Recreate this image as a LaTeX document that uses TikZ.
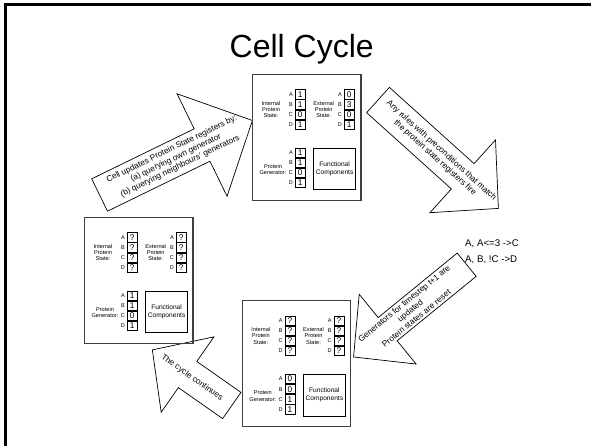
\documentclass[tikz,border=0pt]{standalone}
\usepackage{fontspec}
\setmainfont{Liberation Sans}
\tikzset{
  frameline/.style={line width=3pt},
  cellframe/.style={draw=black!75, line width=1.3pt, inner sep=0pt},
  regcell/.style={draw, line width=0.7pt, minimum width=10pt, minimum height=9.2pt, inner sep=0pt, font=\fontsize{8.3}{8.3}\selectfont},
  reglet/.style={inner sep=0pt, font=\fontsize{5.5}{5.5}\selectfont},
  lbl/.style={inner sep=0pt, align=center, font=\fontsize{5.6}{6.3}\selectfont},
  funcbox/.style={draw, line width=0.8pt, minimum width=42pt, minimum height=41.5pt, inner sep=0pt, align=center, font=\fontsize{6.6}{8.2}\selectfont},
  blockarrow/.style={draw, line width=0.7pt, fill=white, line join=miter},
  arrowtext/.style={align=center, inner sep=0pt, font=\fontsize{8.3}{9.6}\selectfont},
  ruletext/.style={anchor=base west, inner sep=0pt, font=\fontsize{9.7}{9.7}\selectfont},
}
\newcommand\regcol[7]{%
  \foreach \v [count=\i] in {#4,#5,#6,#7}{%
    \node[regcell] (#1\i) at ({#2+5},{-(#3)-10.1*\i+5.05}) {\v};
  }%
  \foreach \l [count=\i] in {A,B,C,D}{%
    \node[reglet] (#1l\i) at ({#2-4.3},{-(#3)-10.1*\i+5.05}) {\l};
  }%
}
\newcommand\cellbox[1]{%
  \node[cellframe, minimum width=108.5pt, minimum height=125.8pt, anchor=north west] (#1) at (0,0) {};
  \node[lbl] (#1-int) at (19.3,-35.8) {Internal\\Protein\\State:};
  \node[lbl] (#1-ext) at (72,-35.8) {External\\Protein\\State:};
  \node[lbl] (#1-gen) at (21.3,-96.1) {Protein\\Generator:};
  \node[funcbox, anchor=north west] (#1-fc) at (61.5,-74) {Functional\\Components};
}
% #1 name, #2 x, #3 y (image), #4 angle, #5 length, #6 shaft width, #7 head width, #8 head length
\newcommand\blockarr[8]{%
  \begin{scope}[shift={(#2,-#3)}, rotate=#4]
    \draw[blockarrow] (0,{-#6/2}) -- ({#5-#8},{-#6/2}) -- ({#5-#8},{-#7/2}) -- (#5,0)
      -- ({#5-#8},{#7/2}) -- ({#5-#8},{#6/2}) -- (0,{#6/2}) -- cycle;
    \coordinate (#1c) at ({#5/2},0);
  \end{scope}%
}
\begin{document}
\begin{tikzpicture}[x=1pt, y=1pt]
\useasboundingbox (0,0) rectangle (591,-445);
\draw[frameline] (5,-446) -- (5,-4.5) -- (592,-4.5);

\node[inner sep=0pt, anchor=base, font=\fontsize{32}{32}\selectfont] (title) at (301.7,-57.3) {Cell Cycle};

% arrows
\blockarr{a1}{99.6}{195}{26}{170}{36}{114}{56}
\node[arrowtext, rotate=26] (a1t) at (a1c) {Cell updates Protein State registers by:\\(a) querying own generator\\(b) querying neighbours' generators};

\blockarr{a2}{378}{100}{-42}{162}{34}{98}{48}
\node[arrowtext, rotate=-42] (a2t) at (a2c) {Any rules with preconditions that match\\the protein state registers fire};

\blockarr{a3}{466.7}{264.7}{219.2}{146}{30}{90}{44}
\node[arrowtext, rotate=39.2] (a3t) at (a3c) {Generators for timestep t+1 are\\updated\\Protein states are reset};

\blockarr{a4}{231.8}{405.5}{145}{97}{32}{92}{43}
\node[arrowtext, rotate=-35] (a4t) at (a4c) {The cycle continues};

% rules
\node[ruletext] (r1) at (465,-246.7) {A, A<=3 ->C};
\node[ruletext] (r2) at (465,-262.3) {A, B, !C ->D};

% top cell
\begin{scope}[shift={(251.7,-73.7)}]
  \cellbox{T}
  \regcol{Ti}{43.5}{15.5}{1}{1}{0}{1}
  \regcol{Te}{92.5}{15.5}{0}{3}{0}{1}
  \regcol{Tg}{43.5}{74}{1}{1}{0}{1}
\end{scope}

% left cell
\begin{scope}[shift={(83.7,-216.7)}]
  \cellbox{L}
  \regcol{Li}{43.5}{15.5}{?}{?}{?}{?}
  \regcol{Le}{92.5}{15.5}{?}{?}{?}{?}
  \regcol{Lg}{43.5}{74}{1}{1}{0}{1}
\end{scope}

% bottom cell
\begin{scope}[shift={(241.5,-300)}]
  \cellbox{B}
  \regcol{Bi}{43.5}{15.5}{?}{?}{?}{?}
  \regcol{Be}{92.5}{15.5}{?}{?}{?}{?}
  \regcol{Bg}{43.5}{74}{0}{0}{1}{1}
\end{scope}
\end{tikzpicture}
\end{document}
